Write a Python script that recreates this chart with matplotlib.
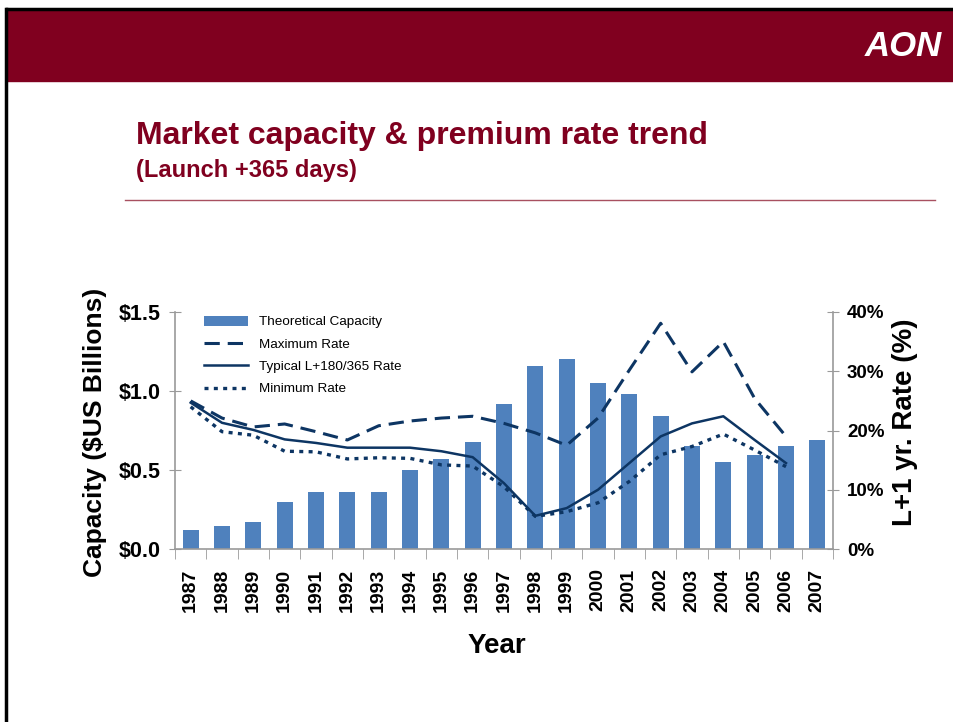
import numpy as np
import matplotlib
matplotlib.use('Agg')
import matplotlib.pyplot as plt
from matplotlib.patches import Rectangle
from matplotlib.lines import Line2D

years = [str(y) for y in range(1987, 2008)]
capacity = [0.12, 0.145, 0.17, 0.30, 0.36, 0.36, 0.36, 0.50, 0.57, 0.68, 0.92,
            1.16, 1.20, 1.05, 0.98, 0.84, 0.65, 0.55, 0.595, 0.65, 0.69]
# rates in %, 1987-2006
max_rate = [25.0, 22.1, 20.6, 21.1, 19.8, 18.4, 20.8, 21.6, 22.1, 22.4, 21.2,
            19.6, 17.5, 22.1, 30.2, 38.1, 29.9, 35.0, 25.4, 19.0]
typ_rate = [24.7, 21.3, 20.1, 18.5, 17.9, 17.1, 17.1, 17.1, 16.5, 15.5, 11.1,
            5.6, 6.9, 10.0, 14.5, 19.0, 21.2, 22.4, 18.4, 14.5]
min_rate = [24.0, 19.8, 19.2, 16.5, 16.4, 15.2, 15.4, 15.3, 14.2, 14.0, 10.5,
            5.5, 6.3, 7.8, 11.4, 15.9, 17.3, 19.4, 16.7, 13.9]

maroon = '#80001F'
navy = '#0D3563'
barc = '#4F81BD'
grey = '#9A9A9A'
sans = ['Liberation Sans', 'DejaVu Sans']

W, H = 954, 722
fig = plt.figure(figsize=(W / 100, H / 100), dpi=100)

# slide decoration
fig.patches.append(Rectangle((7 / W, 1 - 81 / H), 1, 72 / H, transform=fig.transFigure,
                             color=maroon, zorder=0))
fig.add_artist(Line2D([7 / W, 1], [1 - 9 / H, 1 - 9 / H], color='black', lw=2.5))
fig.add_artist(Line2D([6 / W, 6 / W], [0, 1 - 9 / H], color='black', lw=2.5))
fig.add_artist(Line2D([125 / W, 935 / W], [1 - 200 / H, 1 - 200 / H], color='#A85060', lw=1))
fig.text(903 / W, 1 - 46 / H, 'AON', color='white', fontsize=25, fontweight='bold',
         fontstyle='italic', family=sans, ha='center', va='center')
fig.text(136 / W, 1 - 136 / H, 'Market capacity & premium rate trend', color=maroon,
         fontsize=23, fontweight='bold', family=sans, ha='left', va='center')
fig.text(136 / W, 1 - 171 / H, '(Launch +365 days)', color=maroon,
         fontsize=17, fontweight='bold', family=sans, ha='left', va='center')

ax = fig.add_axes([175 / W, 1 - 549 / H, 658 / W, 237 / H])
x = np.arange(len(years))
ax.bar(x, capacity, width=0.52, color=barc, label='Theoretical Capacity', zorder=1)
ax.set_xlim(-0.5, len(years) - 0.5)
ax.set_ylim(0, 1.5)
ax.set_yticks([0, 0.5, 1.0, 1.5])
ax.set_yticklabels(['$0.0', '$0.5', '$1.0', '$1.5'])
ax.set_xticks(x)
ax.set_xticklabels(years, rotation=90)
ax.set_xticks(np.arange(-0.5, len(years), 1), minor=True)
ax.tick_params(axis='x', which='major', length=0, pad=14)
ax.tick_params(axis='x', which='minor', length=7, color=grey, direction='out')
ax.tick_params(axis='y', length=8, direction='inout', color=grey, pad=6)
for lab in ax.get_xticklabels():
    lab.set_fontweight('bold')
    lab.set_fontsize(14)
    lab.set_family(sans)
for lab in ax.get_yticklabels():
    lab.set_fontweight('bold')
    lab.set_fontsize(15.5)
    lab.set_family(sans)
for s in ['top', 'right']:
    ax.spines[s].set_visible(False)
ax.spines['left'].set_color(grey)
ax.spines['bottom'].set_color(grey)
ax.spines['left'].set_linewidth(1.2)
ax.spines['bottom'].set_linewidth(1.2)

ax2 = ax.twinx()
xr = x[:len(max_rate)]
ax2.plot(xr, max_rate, color=navy, lw=2.2, dashes=(5, 2.6), label='Maximum Rate', zorder=3)
ax2.plot(xr, typ_rate, color=navy, lw=1.8, label='Typical L+180/365 Rate', zorder=3)
ax2.plot(xr, min_rate, color=navy, lw=2.4, dashes=(1.2, 1.6), label='Minimum Rate', zorder=3)
ax2.set_ylim(0, 40)
ax2.set_yticks([0, 10, 20, 30, 40])
ax2.set_yticklabels(['0%', '10%', '20%', '30%', '40%'])
ax2.tick_params(axis='y', length=8, direction='inout', color=grey, pad=6)
for lab in ax2.get_yticklabels():
    lab.set_fontweight('bold')
    lab.set_fontsize(13.5)
    lab.set_family(sans)
for s in ['top', 'left', 'bottom']:
    ax2.spines[s].set_visible(False)
ax2.spines['right'].set_color(grey)
ax2.spines['right'].set_linewidth(1.2)

h1, l1 = ax.get_legend_handles_labels()
h2, l2 = ax2.get_legend_handles_labels()
leg = ax2.legend(h1 + h2, l1 + l2, loc='upper left', bbox_to_anchor=(0.025, 1.035),
                 frameon=False, handlelength=3.3, handleheight=0.75, labelspacing=0.72,
                 handletextpad=0.8, prop={'family': sans, 'size': 9.7})

fig.text(95 / W, 1 - 432 / H, 'Capacity ($US Billions)', rotation=90, fontsize=19,
         fontweight='bold', family=sans, ha='center', va='center')
fig.text(905 / W, 1 - 422 / H, 'L+1 yr. Rate (%)', rotation=90, fontsize=20,
         fontweight='bold', family=sans, ha='center', va='center')
fig.text(497 / W, 1 - 646 / H, 'Year', fontsize=20, fontweight='bold', family=sans,
         ha='center', va='center')

fig.savefig('out.png', dpi=100)
